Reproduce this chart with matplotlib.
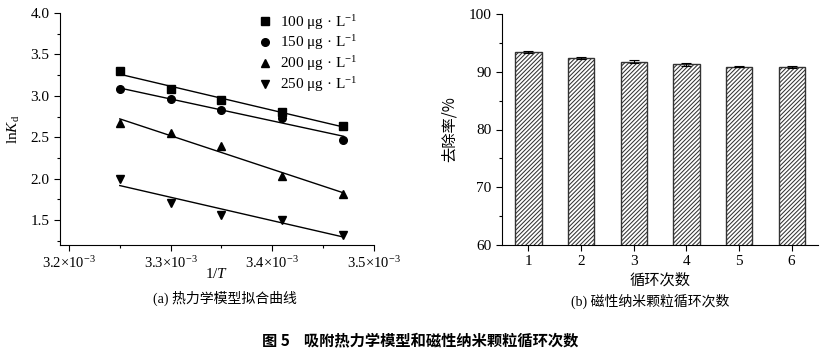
import numpy as np
import matplotlib
matplotlib.use("Agg")
import matplotlib.pyplot as plt
from matplotlib.ticker import MultipleLocator, FuncFormatter

plt.rcParams['font.family'] = ['Liberation Serif', 'Noto Sans CJK SC']
plt.rcParams['mathtext.fontset'] = 'custom'
plt.rcParams['mathtext.rm'] = 'Liberation Serif'
plt.rcParams['mathtext.it'] = 'Liberation Serif:italic'
plt.rcParams['hatch.linewidth'] = 0.75

# ---- data (a) ----
inv_T = [3.25e-3, 3.30e-3, 3.35e-3, 3.41e-3, 3.47e-3]
lnKd_100 = [3.30, 3.08, 2.95, 2.80, 2.64]
lnKd_150 = [3.08, 2.96, 2.83, 2.73, 2.47]
lnKd_200 = [2.67, 2.55, 2.39, 2.03, 1.82]
lnKd_250 = [2.00, 1.71, 1.56, 1.50, 1.32]
series_labels = ['100 μg · L$^{-1}$', '150 μg · L$^{-1}$', '200 μg · L$^{-1}$', '250 μg · L$^{-1}$']
series_markers = ['s', 'o', '^', 'v']
x_ticks_a = [3.2e-3, 3.3e-3, 3.4e-3, 3.5e-3]
x_ticklabels_a = ['3.2×10$^{-3}$', '3.3×10$^{-3}$', '3.4×10$^{-3}$', '3.5×10$^{-3}$']

# ---- data (b) ----
cycles = [1, 2, 3, 4, 5, 6]
removal = [93.4, 92.4, 91.7, 91.3, 90.9, 90.8]
removal_err = [0.2, 0.2, 0.25, 0.3, 0.15, 0.15]

fig = plt.figure(figsize=(8.35, 3.54), dpi=100)
W, H = 835, 354

def ax_rect(l, t, r, b):
    return [l / W, 1 - b / H, (r - l) / W, (b - t) / H]

fs = 11
# ---------- (a) ----------
ax1 = fig.add_axes(ax_rect(60, 13, 374, 245))
x = np.array(inv_T)
for ys, m, lab in zip([lnKd_100, lnKd_150, lnKd_200, lnKd_250], series_markers, series_labels):
    ys = np.array(ys)
    k, b = np.polyfit(x, ys, 1)
    ax1.plot(x, k * x + b, color='black', lw=1.0)
    ax1.plot(x, ys, ls='none', marker=m, color='black', ms=5.5, label=lab)
ax1.set_xlim(3.1912e-3, 3.5e-3)
ax1.set_ylim(1.2, 4.0)
ax1.set_xticks(x_ticks_a)
ax1.set_xticklabels(x_ticklabels_a)
ax1.xaxis.set_minor_locator(MultipleLocator(0.05e-3))
ax1.yaxis.set_major_locator(MultipleLocator(0.5))
ax1.yaxis.set_minor_locator(MultipleLocator(0.25))
ax1.yaxis.set_major_formatter(FuncFormatter(lambda v, p: f'{v:.1f}'))
for s in ['top', 'right']:
    ax1.spines[s].set_visible(False)
ax1.tick_params(direction='out', labelsize=fs, length=4, width=0.8)
ax1.tick_params(axis='x', labelsize=10.5)
ax1.tick_params(which='minor', direction='out', length=2.5, width=0.8)
ax1.set_xlabel('1/$\\mathit{T}$', fontsize=fs)
ax1.xaxis.set_label_coords((217 - 60) / 314, (245 - 267) / 232)
ax1.set_ylabel('ln$\\mathit{K}_{\\rm d}$', fontsize=fs, labelpad=6)
leg = ax1.legend(loc='upper left', bbox_to_anchor=(0.58, 1.06), frameon=False,
                 fontsize=11, handletextpad=0.4, labelspacing=0.12, handlelength=1.2)

# ---------- (b) ----------
ax2 = fig.add_axes(ax_rect(502, 14, 818, 245))
ax2.bar(cycles, removal, width=0.5, color='white', edgecolor='#333333', hatch='////////',
        linewidth=1.0, yerr=removal_err, capsize=3.5,
        error_kw=dict(ecolor='black', elinewidth=0.8, capthick=0.8))
ax2.set_xlim(0.5, 6.5)
ax2.set_ylim(60, 100)
ax2.set_xticks(cycles)
ax2.yaxis.set_major_locator(MultipleLocator(10))
ax2.yaxis.set_minor_locator(MultipleLocator(5))
for s in ['top', 'right']:
    ax2.spines[s].set_visible(False)
ax2.tick_params(direction='out', labelsize=fs, length=4, width=0.8)
ax2.tick_params(which='minor', direction='out', length=2.5, width=0.8)
ax2.set_xlabel('循环次数', fontsize=fs, family=['Noto Sans CJK SC'], labelpad=2)
ax2.set_ylabel('去除率/%', fontsize=fs, family=['Noto Sans CJK SC', 'Liberation Serif'], labelpad=8)

# ---------- captions ----------
fig.text(225 / W, 1 - 298 / H, '(a) 热力学模型拟合曲线', ha='center', va='center',
         fontsize=10, family=['Liberation Serif', 'Noto Sans CJK SC'])
fig.text(650 / W, 1 - 301 / H, '(b) 磁性纳米颗粒循环次数', ha='center', va='center',
         fontsize=10, family=['Liberation Serif', 'Noto Sans CJK SC'])
fig.text(420 / W, 1 - 340 / H, '图 5    吸附热力学模型和磁性纳米颗粒循环次数', ha='center', va='center',
         fontsize=11, fontweight='bold', family=['Noto Sans CJK SC'])

fig.savefig('out.png', dpi=100)
